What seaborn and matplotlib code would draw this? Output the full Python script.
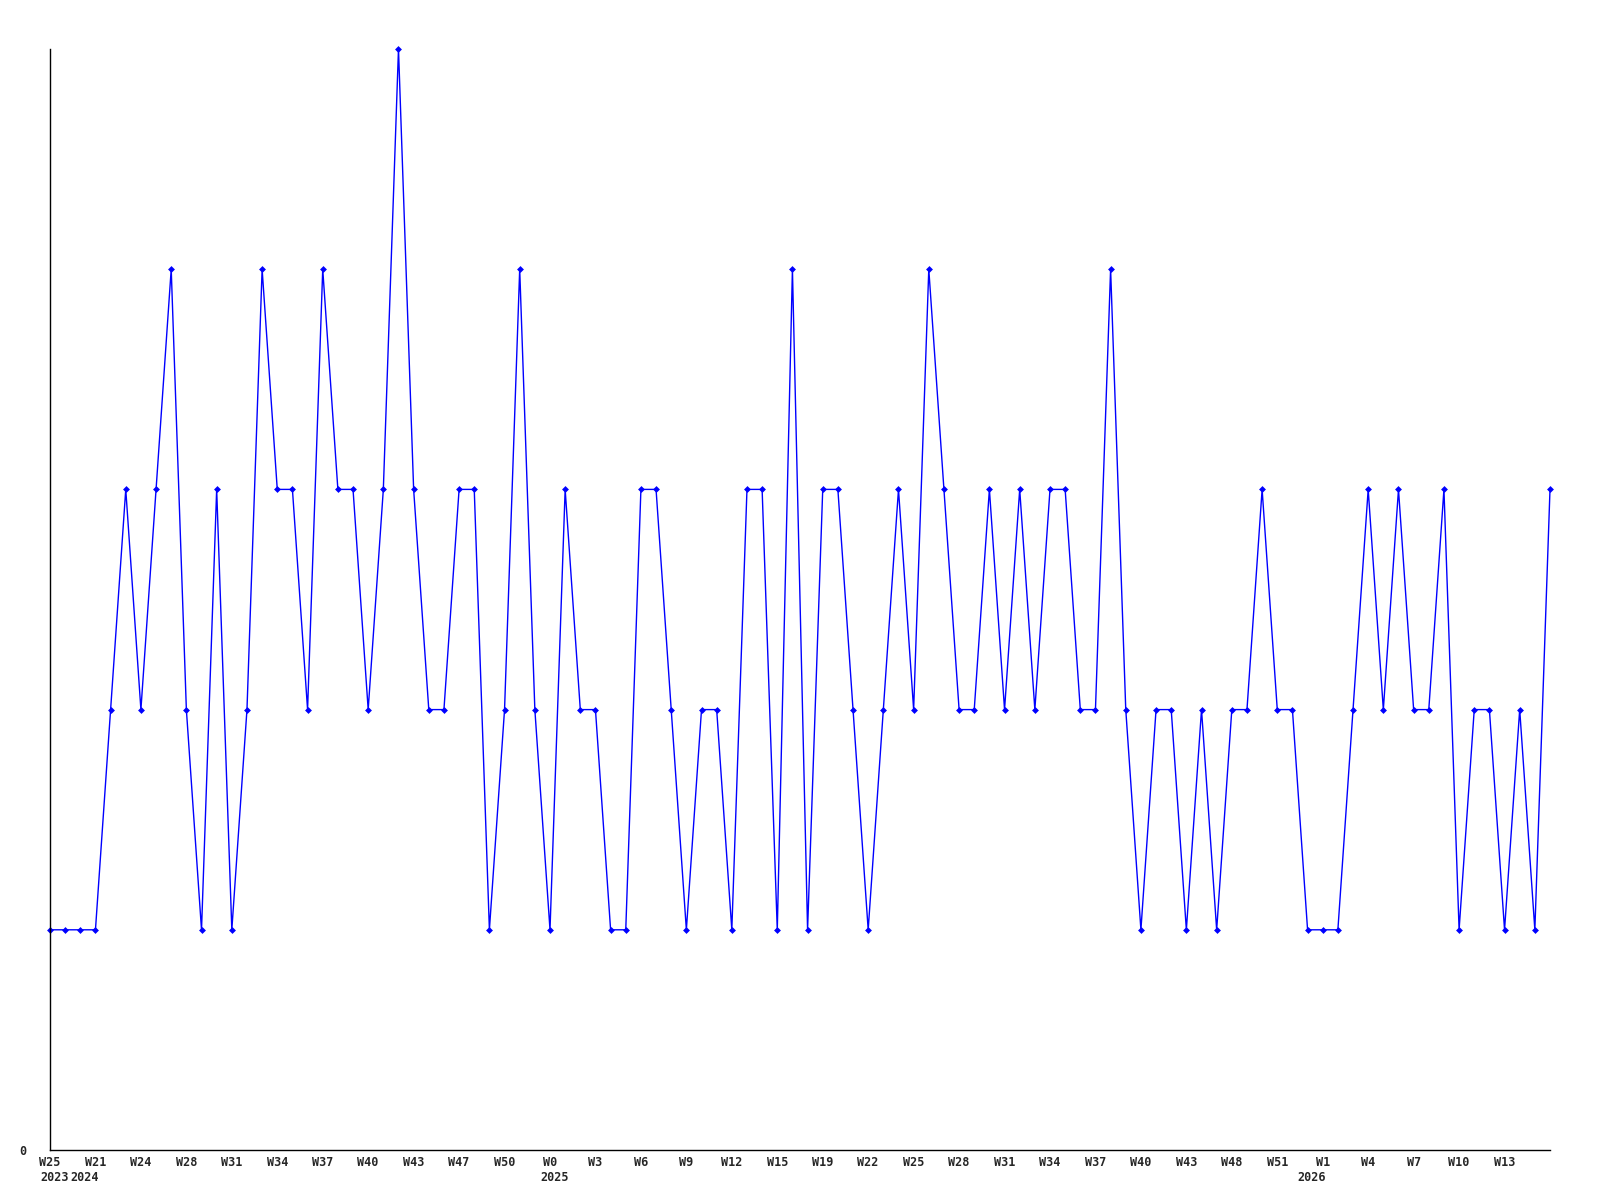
import pandas as pd
import seaborn as sns
import matplotlib.pyplot as plt
import matplotlib.transforms as mtransforms

# weekly counts
values = [1, 1, 1, 1, 2, 3, 2, 3, 4, 2,
          1, 3, 1, 2, 4, 3, 3, 2, 4, 3,
          3, 2, 3, 5, 3, 2, 2, 3, 3, 1,
          2, 4, 2, 1, 3, 2, 2, 1, 1, 3,
          3, 2, 1, 2, 2, 1, 3, 3, 1, 4,
          1, 3, 3, 2, 1, 2, 3, 2, 4, 3,
          2, 2, 3, 2, 3, 2, 3, 3, 2, 2,
          4, 2, 1, 2, 2, 1, 2, 1, 2, 2,
          3, 2, 2, 1, 1, 1, 2, 3, 2, 3,
          2, 2, 3, 1, 2, 2, 1, 2, 1, 3]

week_labels = ["W25", "W21", "W24", "W28", "W31", "W34", "W37", "W40", "W43",
               "W47", "W50", "W0", "W3", "W6", "W9", "W12", "W15", "W19",
               "W22", "W25", "W28", "W31", "W34", "W37", "W40", "W43", "W48",
               "W51", "W1", "W4", "W7", "W10", "W13"]
year_labels = ["2023", "2024", "2025", "2026"]
year_pos = [0, 2, 33, 83]

df = pd.DataFrame({"idx": range(len(values)), "count": values})

sns.set_style("white")
plt.rcParams['font.family'] = ['DejaVu Sans Mono']

fig = plt.figure(figsize=(16, 12), dpi=100)
ax = fig.add_axes([50 / 1600, 50 / 1200, 1500 / 1600, 1101 / 1200])

sns.lineplot(x="idx", y="count", data=df, color="#0000ff", linewidth=1.0,
             marker="D", markersize=3.5, markeredgewidth=0, ax=ax, clip_on=False)

ax.set_xlim(0, len(values) - 1)
ax.set_ylim(0, 5)
ax.set_xlabel("")
ax.set_ylabel("")

ax.set_xticks(range(0, 3 * len(week_labels), 3))
ax.set_xticklabels(week_labels, fontsize=8.5, fontweight="bold")
ax.set_yticks([0])
ax.set_yticklabels(["0"], fontsize=8.5, fontweight="bold")
ax.tick_params(axis="x", length=0, pad=4)
ax.tick_params(axis="y", length=0, pad=17)

trans = mtransforms.blended_transform_factory(ax.transData, ax.transAxes) + \
    mtransforms.ScaledTranslation(-10 / 100, -21 / 100, fig.dpi_scale_trans)
for pos, yr in zip(year_pos, year_labels):
    ax.text(pos, 0, yr, transform=trans, ha="left", va="top",
            fontsize=8.5, fontweight="bold")

sns.despine(ax=ax)
for s in ["left", "bottom"]:
    ax.spines[s].set_color("black")
    ax.spines[s].set_linewidth(1.0)

fig.savefig("out.png", dpi=100, facecolor="white")
